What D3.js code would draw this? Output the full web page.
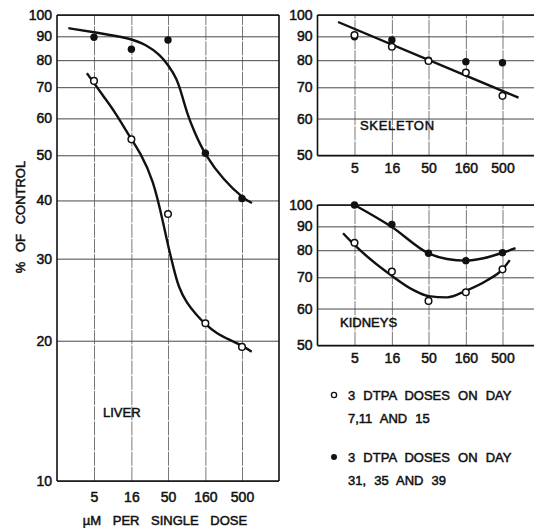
<!DOCTYPE html>
<html>
<head>
<meta charset="utf-8">
<script src="https://cdn.jsdelivr.net/npm/d3@7"></script>
<style>
  body { margin: 0; background: #fff; }
  svg text { font-family: "Liberation Sans", Arial, sans-serif; fill: #111; stroke: #111; stroke-width: 0.5px; }
</style>
</head>
<body>
<div id="chart"></div>
<script>
// doses (µM per single dose) and % of control
const doses = [5, 16, 50, 160, 500];

const liverEarly = [72.2, 54.1, 37.4, 21.8, 19.4];
const liverLate = [89.6, 84.4, 88.4, 50.5, 40.4];
const skeletonEarly = [90.6, 85.5, 79.7, 75.3, 67.1];
const skeletonLate = [89.8, 88.4, 80, 79.4, 79];
const kidneyEarly = [83, 72, 62.3, 65, 72.8];
const kidneyLate = [100, 90.8, 78.8, 76, 79];

// hand-drawn fitted curves, [dose, %]
const liverEarlyFit = [[4, 75], [5, 71.5], [7, 66.3], [9.6, 61.9], [15.3, 54.7], [20.9, 50.8],
  [31.7, 44.3], [43.2, 35.7], [50.5, 31.8], [59, 28.8], [68.9, 26.1], [89.4, 24.1], [122, 22.7],
  [155, 21.8], [227, 20.7], [344, 20.07], [511, 19.5], [676, 18.95]];
const liverLateFit = [[2.25, 93.7], [5, 91.9], [15.3, 89.2], [25.8, 86.2], [39, 82.1], [50.2, 78.1],
  [65.6, 73.2], [77.3, 67.3], [90.3, 61.6], [112, 56.4], [158, 50.1], [280, 44.3], [520, 40.4],
  [682, 39.5]];
const skeletonFit = [[3.0, 96.6], [823, 66.5]];
const kidneyEarlyFit = [[3.5, 87], [5, 82.1], [16, 70.5], [31.4, 65.7], [50, 63.8], [89, 63.4],
  [160, 65.5], [311, 69], [500, 72.8], [627, 76.2]];
const kidneyLateFit = [[5, 100], [16, 89.7], [50, 78.8], [89, 76.6], [160, 76], [277, 76.9],
  [500, 79], [750, 80.8]];

const liverTicks = [10, 20, 30, 40, 50, 60, 70, 80, 90, 100];
const smallTicks = [50, 60, 70, 80, 90, 100];
const legendLines = [
  ["3 DTPA DOSES ON DAY", "7,11 AND 15"],
  ["3 DTPA DOSES ON DAY", "31, 35 AND 39"]
];

const width = 534;
const height = 528;
const xDomain = [5 / Math.sqrt(10), 500 * Math.sqrt(10)];

const svg = d3.select("#chart").append("svg")
  .attr("width", width)
  .attr("height", height)
  .style("background", "#fff");

function panel(o) {
  const x = d3.scaleLog().domain(xDomain).range([o.left, o.right]);
  const y = d3.scaleLog().domain(o.yDomain).range([o.bottom, o.top]);
  const g = svg.append("g");

  // horizontal grid + y labels
  const ya = g.append("g")
    .attr("transform", `translate(${o.left},0)`)
    .call(d3.axisLeft(y).tickValues(o.yTicks).tickFormat(d3.format("d"))
      .tickSize(-(o.right - o.left)).tickPadding(5));
  ya.select(".domain").remove();
  ya.selectAll(".tick line").attr("stroke", "#333").attr("stroke-width", 0.9);

  // vertical grid + x labels
  const xa = g.append("g")
    .attr("transform", `translate(0,${o.bottom})`)
    .call(d3.axisBottom(x).tickValues(doses).tickFormat(d3.format("d"))
      .tickSize(-(o.bottom - o.top)).tickPadding(o.xPad));
  xa.select(".domain").remove();
  xa.selectAll(".tick line").attr("stroke", "#555").attr("stroke-width", 0.8)
    .attr("stroke-dasharray", "14,1.2");

  g.selectAll(".tick text").style("font-size", "14px");

  // frame
  const fr = g.append("g").attr("stroke", "#111").attr("stroke-width", 1.6).attr("fill", "none");
  fr.append("line").attr("x1", o.left).attr("x2", o.left).attr("y1", o.top).attr("y2", o.bottom);
  fr.append("line").attr("x1", o.left).attr("x2", o.right).attr("y1", o.top).attr("y2", o.top);
  fr.append("line").attr("x1", o.left).attr("x2", o.right).attr("y1", o.bottom).attr("y2", o.bottom);
  if (o.closed) {
    fr.append("line").attr("x1", o.right).attr("x2", o.right).attr("y1", o.top).attr("y2", o.bottom);
  }

  g.append("text")
    .attr("x", o.labelX).attr("y", o.labelY)
    .style("font-size", "13px")
    .style("letter-spacing", o.labelSpacing || "0px")
    .text(o.label);

  return { g, x, y };
}

function curve(p, pts, curveType) {
  const line = d3.line()
    .x(d => p.x(d[0]))
    .y(d => p.y(d[1]))
    .curve(curveType);
  p.g.append("path")
    .attr("d", line(pts))
    .attr("fill", "none")
    .attr("stroke", "#111")
    .attr("stroke-width", 2.4);
}

function dots(p, values, filled) {
  p.g.append("g").selectAll("circle")
    .data(values)
    .join("circle")
    .attr("cx", (d, i) => p.x(doses[i]))
    .attr("cy", d => p.y(d))
    .attr("r", filled ? 3.7 : 3.3)
    .attr("fill", filled ? "#111" : "#fff")
    .attr("stroke", "#111")
    .attr("stroke-width", filled ? 0 : 1.5);
}

const liver = panel({
  left: 57, right: 279, top: 15, bottom: 481,
  yDomain: [10, 100], yTicks: liverTicks, xPad: 11, closed: true,
  label: "LIVER", labelX: 103, labelY: 417
});
const skeleton = panel({
  left: 317.5, right: 539.5, top: 15, bottom: 155.5,
  yDomain: [50, 100], yTicks: smallTicks, xPad: 7.5, closed: false,
  label: "SKELETON", labelX: 360, labelY: 130, labelSpacing: "0.7px"
});
const kidneys = panel({
  left: 317.5, right: 539.5, top: 205, bottom: 345.5,
  yDomain: [50, 100], yTicks: smallTicks, xPad: 7.5, closed: false,
  label: "KIDNEYS", labelX: 340, labelY: 327
});

curve(liver, liverLateFit, d3.curveBasis);
curve(liver, liverEarlyFit, d3.curveBasis);
curve(skeleton, skeletonFit, d3.curveLinear);
curve(kidneys, kidneyLateFit, d3.curveMonotoneX);
curve(kidneys, kidneyEarlyFit, d3.curveMonotoneX);

dots(liver, liverLate, true);
dots(liver, liverEarly, false);
dots(skeleton, skeletonLate, true);
dots(skeleton, skeletonEarly, false);
dots(kidneys, kidneyLate, true);
dots(kidneys, kidneyEarly, false);

// axis titles
svg.append("text")
  .attr("transform", "translate(25,217) rotate(-90)")
  .attr("text-anchor", "middle")
  .style("font-size", "13px")
  .style("word-spacing", "6px")
  .text("% OF CONTROL");

svg.append("text")
  .attr("x", 165).attr("y", 524.5)
  .attr("text-anchor", "middle")
  .style("font-size", "13px")
  .style("word-spacing", "8px")
  .text("µM PER SINGLE DOSE");

// legend
const legend = svg.append("g");
legendLines.forEach(function (lines, i) {
  const y0 = i === 0 ? 395 : 457;
  legend.append("circle")
    .attr("cx", 334).attr("cy", y0)
    .attr("r", i === 0 ? 2.6 : 3)
    .attr("fill", i === 0 ? "#fff" : "#111")
    .attr("stroke", "#111")
    .attr("stroke-width", i === 0 ? 1.3 : 0);
  lines.forEach(function (t, j) {
    legend.append("text")
      .attr("x", 348).attr("y", y0 + 5 + j * 23)
      .style("font-size", "13px")
      .style("word-spacing", "4.5px")
      .text(t);
  });
});
</script>
</body>
</html>
